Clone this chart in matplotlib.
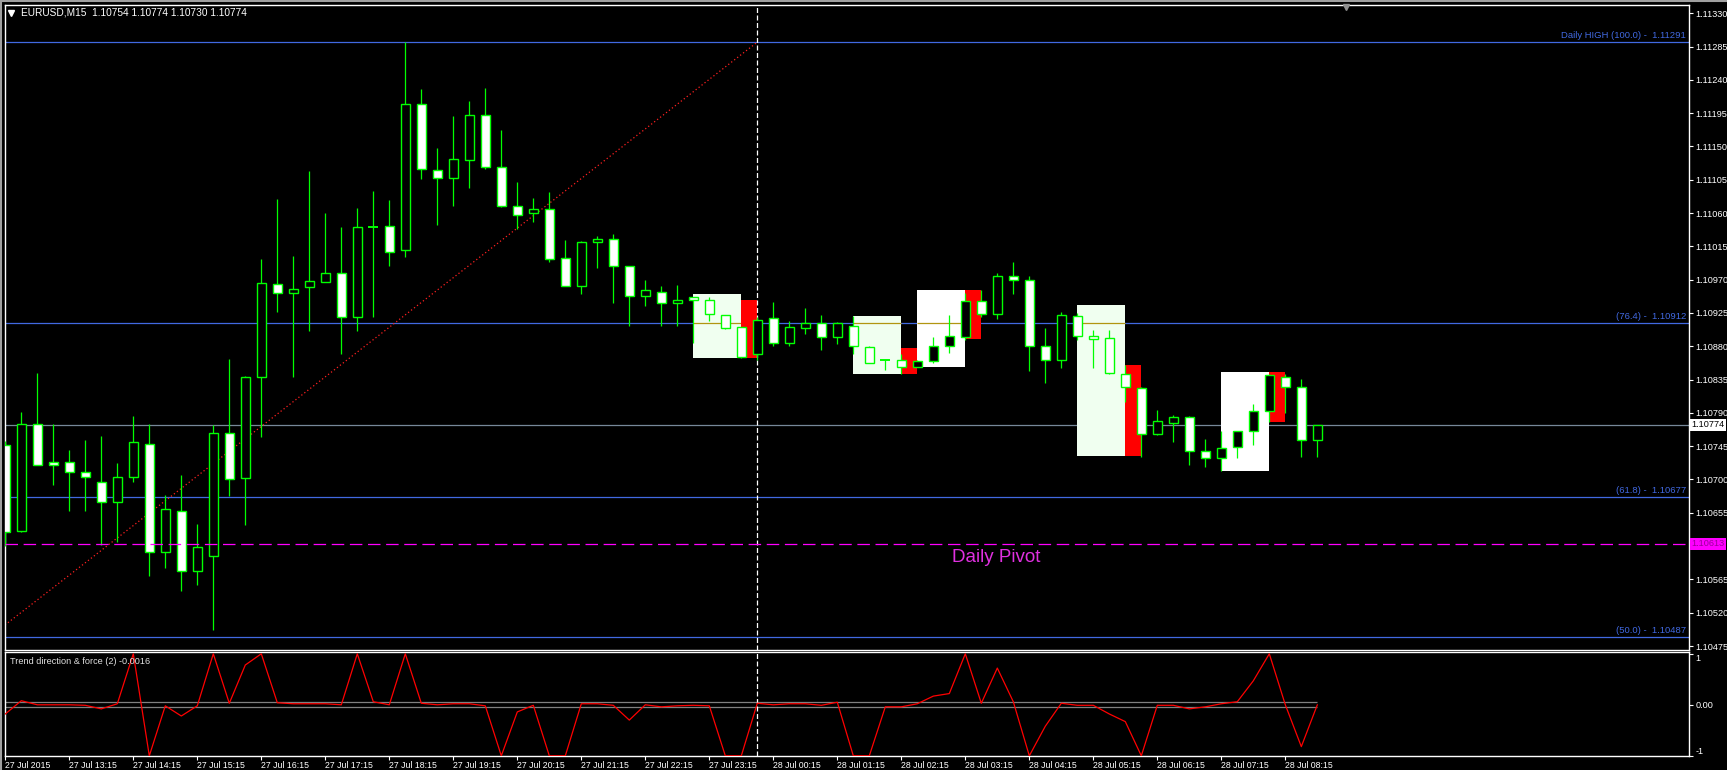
import numpy as np
import matplotlib.pyplot as plt
import matplotlib.transforms as mtransforms
from matplotlib.patches import Rectangle
from matplotlib.lines import Line2D

plt.rcParams['font.family'] = ['Liberation Sans', 'DejaVu Sans']

symbol = 'EURUSD,M15'

# 15 minute bars, 27 Jul 12:15 .. 28 Jul 08:45
opens = [1.10746, 1.10631, 1.10775, 1.10723, 1.10723, 1.10710, 1.10697, 1.10670, 1.10703, 1.10748,
         1.10602, 1.10658, 1.10577, 1.10596, 1.10763, 1.10702, 1.10838, 1.10964, 1.10952, 1.10960,
         1.10967, 1.10979, 1.10920, 1.11041, 1.11042, 1.11010, 1.11207, 1.11118, 1.11107, 1.11132,
         1.11193, 1.11122, 1.11069, 1.11060, 1.11066, 1.10999, 1.10962, 1.11021, 1.11025, 1.10989,
         1.10948, 1.10954, 1.10938, 1.10946, 1.10942, 1.10922, 1.10906, 1.10870, 1.10918, 1.10885,
         1.10905, 1.10912, 1.10893, 1.10908, 1.10879, 1.10861, 1.10862, 1.10852, 1.10860, 1.10880,
         1.10893, 1.10941, 1.10923, 1.10975, 1.10969, 1.10881, 1.10861, 1.10921, 1.10894, 1.10891,
         1.10843, 1.10823, 1.10762, 1.10777, 1.10784, 1.10739, 1.10729, 1.10744, 1.10765, 1.10792,
         1.10839, 1.10825, 1.10754]
highs = [1.10752, 1.10791, 1.10844, 1.10775, 1.10740, 1.10753, 1.10759, 1.10722, 1.10786, 1.10775,
         1.10679, 1.10706, 1.10640, 1.10773, 1.10863, 1.10840, 1.10998, 1.11079, 1.11002, 1.11117,
         1.11060, 1.11041, 1.11067, 1.11090, 1.11078, 1.11291, 1.11228, 1.11148, 1.11191, 1.11212,
         1.11229, 1.11172, 1.11102, 1.11080, 1.11088, 1.11024, 1.11022, 1.11029, 1.11032, 1.10989,
         1.10970, 1.10961, 1.10963, 1.10946, 1.10947, 1.10922, 1.10906, 1.10920, 1.10940, 1.10914,
         1.10932, 1.10922, 1.10913, 1.10921, 1.10880, 1.10863, 1.10870, 1.10862, 1.10893, 1.10922,
         1.10952, 1.10956, 1.10979, 1.10994, 1.10975, 1.10905, 1.10926, 1.10925, 1.10902, 1.10902,
         1.10855, 1.10825, 1.10794, 1.10787, 1.10786, 1.10755, 1.10765, 1.10765, 1.10802, 1.10843,
         1.10843, 1.10836, 1.10774]
lows = [1.10610, 1.10629, 1.10719, 1.10693, 1.10658, 1.10658, 1.10611, 1.10616, 1.10697, 1.10570,
        1.10581, 1.10549, 1.10558, 1.10497, 1.10678, 1.10639, 1.10757, 1.10926, 1.10839, 1.10900,
        1.10967, 1.10869, 1.10901, 1.10920, 1.10989, 1.11000, 1.11106, 1.11044, 1.11069, 1.11094,
        1.11120, 1.11068, 1.11038, 1.11048, 1.10994, 1.10962, 1.10951, 1.10986, 1.10939, 1.10908,
        1.10935, 1.10908, 1.10908, 1.10885, 1.10914, 1.10903, 1.10864, 1.10861, 1.10881, 1.10881,
        1.10897, 1.10875, 1.10883, 1.10870, 1.10858, 1.10848, 1.10842, 1.10852, 1.10858, 1.10871,
        1.10889, 1.10920, 1.10917, 1.10950, 1.10847, 1.10830, 1.10850, 1.10888, 1.10850, 1.10843,
        1.10805, 1.10731, 1.10760, 1.10751, 1.10720, 1.10717, 1.10711, 1.10729, 1.10746, 1.10778,
        1.10790, 1.10731, 1.10730]
closes = [1.10629, 1.10775, 1.10720, 1.10720, 1.10710, 1.10704, 1.10670, 1.10704, 1.10750, 1.10602,
          1.10660, 1.10577, 1.10609, 1.10763, 1.10700, 1.10838, 1.10965, 1.10952, 1.10958, 1.10968,
          1.10979, 1.10920, 1.11041, 1.11041, 1.11008, 1.11208, 1.11119, 1.11108, 1.11133, 1.11192,
          1.11122, 1.11069, 1.11058, 1.11066, 1.10998, 1.10962, 1.11021, 1.11025, 1.10989, 1.10948,
          1.10956, 1.10938, 1.10943, 1.10943, 1.10923, 1.10905, 1.10866, 1.10915, 1.10885, 1.10906,
          1.10911, 1.10893, 1.10911, 1.10880, 1.10858, 1.10861, 1.10852, 1.10860, 1.10881, 1.10894,
          1.10941, 1.10924, 1.10975, 1.10969, 1.10881, 1.10862, 1.10922, 1.10894, 1.10890, 1.10844,
          1.10825, 1.10762, 1.10779, 1.10784, 1.10739, 1.10729, 1.10743, 1.10765, 1.10792, 1.10841,
          1.10825, 1.10754, 1.10774]

# Trend direction & force (2)
trend = [-0.18, 0.08, 0.00, 0.00, 0.00, -0.01, -0.08, 0.02, 1.00, -1.00,
         -0.02, -0.22, -0.02, 1.00, 0.03, 0.78, 1.00, 0.04, 0.02, 0.02,
         0.02, 0.00, 1.00, 0.06, 0.00, 1.00, 0.03, 0.00, 0.02, 0.02,
         -0.02, -1.00, -0.14, -0.01, -1.00, -1.00, 0.02, 0.02, -0.01, -0.30,
         0.00, -0.04, -0.02, -0.01, -0.02, -1.00, -1.00, 0.03, 0.00, 0.02,
         0.02, -0.01, 0.05, -1.00, -1.00, -0.04, -0.04, 0.02, 0.17, 0.22,
         1.00, 0.03, 0.72, 0.06, -1.00, -0.42, 0.03, -0.01, -0.01, -0.18,
         -0.33, -1.00, -0.01, -0.01, -0.08, -0.04, 0.02, 0.06, 0.47, 1.00,
         0.00, -0.82, -0.0016]
trend_levels = [0.05, -0.05]

# daily fibo (27 Jul 00:00 low -> 28 Jul 00:00 high)
fib_low = 1.09683
fib_high = 1.11291
fib_start_bar = -49
fib_end_bar = 47
fib_levels = [100.0, 76.4, 61.8, 50.0]
pivot = 1.10613
day_break_bar = 47

# pattern boxes
box_start = [43, 53, 57, 67, 76]
box_end = [46, 56, 60, 70, 79]
box_low = [1.10864, 1.10842, 1.10852, 1.10732, 1.10712]
box_high = [1.10951, 1.10921, 1.10956, 1.10936, 1.10845]
red_low = [1.10864, 1.10842, 1.10890, 1.10732, 1.10778]
red_high = [1.10943, 1.10878, 1.10956, 1.10855, 1.10845]
box_tone = ['#F0FFF0', '#F0FFF0', '#FFFFFF', '#F0FFF0', '#FFFFFF']

price_ticks = [1.10475, 1.10520, 1.10565, 1.10610, 1.10655, 1.10700, 1.10745, 1.10790,
               1.10835, 1.10880, 1.10925, 1.10970, 1.11015, 1.11060, 1.11105, 1.11150,
               1.11195, 1.11240, 1.11285, 1.11330]
time_tick_bars = [0, 4, 8, 12, 16, 20, 24, 28, 32, 36, 40, 44, 48, 52, 56, 60, 64, 68, 72, 76, 80]
time_tick_labels = ['27 Jul 2015', '27 Jul 13:15', '27 Jul 14:15', '27 Jul 15:15', '27 Jul 16:15',
                    '27 Jul 17:15', '27 Jul 18:15', '27 Jul 19:15', '27 Jul 20:15', '27 Jul 21:15',
                    '27 Jul 22:15', '27 Jul 23:15', '28 Jul 00:15', '28 Jul 01:15', '28 Jul 02:15',
                    '28 Jul 03:15', '28 Jul 04:15', '28 Jul 05:15', '28 Jul 06:15', '28 Jul 07:15',
                    '28 Jul 08:15']

W, H = 1727, 770
LIME = '#00FF00'
FIB = '#4169E1'

o = np.array(opens); h = np.array(highs); l = np.array(lows); c = np.array(closes)
x = np.arange(len(o))

fig = plt.figure(figsize=(W / 100, H / 100), dpi=100, facecolor='black')
ax = fig.add_axes([4.7 / W, 1 - 650 / H, (1689 - 4.7) / W, (650 - 4.7) / H])
ax2 = fig.add_axes([4.7 / W, 1 - 756 / H, (1689 - 4.7) / W, (756 - 652.3) / H], sharex=ax)

for a in (ax, ax2):
    a.set_facecolor('black')
    for s in a.spines.values():
        s.set_color('white')
        s.set_linewidth(1)

ax.set_xlim(-0.0375, 105.23)
ax.set_ylim(1.104696, 1.113416)

# fibo levels, pivot, bid line
fib_prices = [fib_low + lv / 100 * (fib_high - fib_low) for lv in fib_levels]
for lv, p in zip(fib_levels, fib_prices):
    ax.axhline(p, color=FIB, lw=0.9, zorder=1)
    txt = f'({lv:.1f}) -  {p:.5f}'
    if lv == 100.0:
        txt = 'Daily HIGH ' + txt
    ax.annotate(txt, xy=(0.9982, p), xycoords=('axes fraction', 'data'),
                xytext=(0, 1.2), textcoords='offset points', ha='right', va='bottom',
                color=FIB, fontsize=6.8, zorder=6)
ax.plot([fib_start_bar, fib_end_bar], [fib_low, fib_high], color='#FF2020',
        lw=0.9, ls=(0, (1, 2)), zorder=2)
ax.axhline(c[-1], color='#778899', lw=0.9, zorder=1)
ax.axhline(pivot, color='#FF00FF', lw=0.9, ls=(0, (10, 4.5)), zorder=5)
ax.text(61.9, pivot - 0.00019, 'Daily Pivot', color='#E030E0', fontsize=13.5,
        ha='center', va='center', zorder=6)

# pattern boxes
for s, e, lo, hi, rlo, rhi, tone in zip(box_start, box_end, box_low, box_high,
                                        red_low, red_high, box_tone):
    ax.add_patch(Rectangle((s, lo), e - s, hi - lo, fc=tone, ec='none', zorder=1.5))
    for p in fib_prices:
        if lo < p < hi:
            ax.hlines(p, s, e, color='#B19611', lw=0.9, zorder=1.6)
    ax.add_patch(Rectangle((e, rlo), 1, rhi - rlo, fc='#FF0000', ec='none', zorder=1.7))

# candles
up = c > o
dn = c < o
dj = c == o
ax.vlines(x, l, h, color=LIME, lw=0.9, zorder=3)
ax.bar(x[up], (c - o)[up], bottom=o[up], width=0.6, color='black',
       edgecolor=LIME, linewidth=1.0, zorder=4)
ax.bar(x[dn], (o - c)[dn], bottom=c[dn], width=0.6, color='white',
       edgecolor=LIME, linewidth=1.0, zorder=4)
ax.hlines(c[dj], x[dj] - 0.32, x[dj] + 0.32, color=LIME, lw=1.4, zorder=4)

# day separator
for a in (ax, ax2):
    a.axvline(day_break_bar, color='white', lw=0.9, ls=(0, (4, 2)), zorder=2.5)

# price axis (label under the pivot tag is hidden, as in the terminal)
ax.yaxis.tick_right()
ax.set_yticks(price_ticks)
ax.set_yticklabels(['' if abs(p - pivot) < 0.00008 else f'{p:.5f}' for p in price_ticks])
ax.tick_params(axis='y', colors='white', labelcolor='white', labelsize=6.6,
               length=3, width=0.8, pad=1.5, direction='out')
ax.tick_params(axis='x', bottom=False, labelbottom=False)

blend = mtransforms.blended_transform_factory(ax.transAxes, ax.transData)
ax.text(1.0016, c[-1], f'{c[-1]:.5f}', transform=blend, ha='left', va='center',
        fontsize=6.6, color='black', zorder=10, clip_on=False,
        bbox=dict(boxstyle='square,pad=0.15', fc='white', ec='none'))
ax.text(1.0016, pivot, f'{pivot:.5f}', transform=blend, ha='left', va='center',
        fontsize=6.6, color='#9A009A', zorder=10, clip_on=False,
        bbox=dict(boxstyle='square,pad=0.15', fc='#FF00FF', ec='none'))

# header
ax.plot([0.0039], [0.9876], marker='v', color='white', ms=4, transform=ax.transAxes,
        clip_on=False, zorder=10)
ax.text(0.0095, 0.9876,
        f'{symbol}  {o[-1]:.5f} {h[-1]:.5f} {l[-1]:.5f} {c[-1]:.5f}',
        transform=ax.transAxes, color='white', fontsize=7.3, ha='left', va='center')
ax.plot([0.7963], [0.996], marker='v', color='#909090', ms=5, transform=ax.transAxes,
        clip_on=False, zorder=10)

# indicator panel
ax2.set_ylim(-1.004, 1.029)
ax2.plot(x, trend, color='#FF0000', lw=0.9, zorder=3)
for lvl in trend_levels:
    ax2.hlines(lvl, -1, x[-1], color='#808080', lw=0.9, zorder=2)
ax2.text(0.0031, 0.9065, f'Trend direction & force (2) {trend[-1]:.4f}',
         transform=ax2.transAxes, color='#E0E0E0', fontsize=6.6, ha='left', va='center')
ax2.yaxis.tick_right()
ax2.set_yticks([1, 0, -1])
ax2.set_yticklabels(['1', '0.00', '-1'])
ax2.tick_params(axis='y', colors='white', labelcolor='white', labelsize=6.6,
                length=3, width=0.8, pad=1.5)
ylabs = ax2.get_yticklabels()
ylabs[0].set_va('top')
ylabs[2].set_va('bottom')
ax2.set_xticks(time_tick_bars)
ax2.set_xticklabels(time_tick_labels, ha='left')
ax2.tick_params(axis='x', colors='white', labelcolor='white', labelsize=6.3,
                length=3, width=0.8, pad=0.5)

# window frame
fig.add_artist(Line2D([0, 1], [1 - 1 / H, 1 - 1 / H], color='#A0A0A0', lw=1.5))
fig.add_artist(Line2D([1 / W, 1 / W], [0, 1], color='#A0A0A0', lw=1.5))

fig.savefig('out.png', dpi=100, facecolor='black')
